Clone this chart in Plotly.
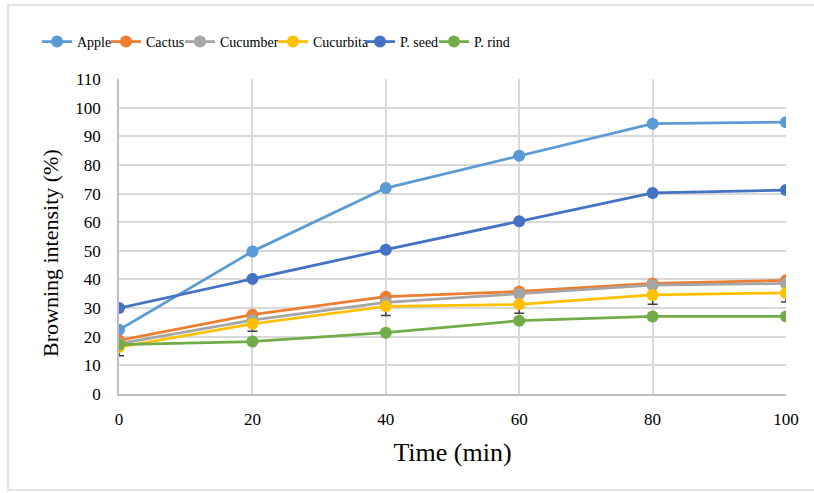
import plotly.graph_objects as go

time_min = [0, 20, 40, 60, 80, 100]
apple = [22.4, 49.8, 71.9, 83.2, 94.4, 94.9]
cactus = [18.7, 27.7, 34.0, 35.8, 38.6, 39.7]
cucumber = [17.6, 25.8, 32.0, 34.9, 38.0, 38.6]
cucurbita = [16.4, 24.5, 30.6, 31.3, 34.6, 35.3]
cucurbita_err = [3.0, 2.6, 3.2, 3.1, 3.3, 3.2]
p_seed = [30.0, 40.2, 50.4, 60.3, 70.2, 71.2]
p_rind = [17.2, 18.3, 21.4, 25.6, 27.1, 27.1]

series_names = ["Apple", "Cactus", "Cucumber", "Cucurbita", "P. seed", "P. rind"]
series_values = [apple, cactus, cucumber, cucurbita, p_seed, p_rind]
colors = ["#5B9BD5", "#ED7D31", "#A5A5A5", "#FFC000", "#4472C4", "#70AD47"]

y_ticks = list(range(0, 111, 10))
x_ticks = [0, 20, 40, 60, 80, 100]

FONT = "Liberation Serif, Times New Roman, serif"

W, H = 814, 493
L, R, T, B = 119, 28, 79, 99
pw, ph = W - L - R, H - T - B


def px(xp):
    return (xp - L) / pw


def py(yp):
    return (H - B - yp) / ph


# pixel x where each legend entry (one legend per series) begins
legend_left_px = [37, 106, 180, 273, 360, 434]
legend_ids = ["legend", "legend2", "legend3", "legend4", "legend5", "legend6"]

fig = go.Figure()
for name, vals, col, lid in zip(series_names, series_values, colors, legend_ids):
    kw = {}
    if name == "Cucurbita":
        kw["error_y"] = dict(type="data", symmetric=False,
                             array=[0] * len(cucurbita_err),
                             arrayminus=cucurbita_err,
                             color="#404040", thickness=1.5, width=5)
    fig.add_trace(go.Scatter(
        x=time_min, y=vals, name=name, mode="lines+markers",
        line=dict(color=col, width=2.75),
        marker=dict(color=col, size=12),
        legend=lid,
        **kw))

fig.add_shape(type="rect", xref="paper", yref="paper",
              x0=px(8), x1=px(840), y0=py(490), y1=py(5),
              line=dict(color="#D9D9D9", width=1.5), fillcolor="rgba(0,0,0,0)",
              layer="below")

legend_layout = {}
for lid, lx in zip(legend_ids, legend_left_px):
    legend_layout[lid] = dict(orientation="h", x=px(lx), xanchor="left",
                              y=py(42), yanchor="middle",
                              font=dict(family=FONT, size=14, color="#000000"),
                              itemwidth=30, bgcolor="rgba(0,0,0,0)")

fig.update_layout(
    width=W, height=H,
    margin=dict(l=L, r=R, t=T, b=B, pad=0),
    paper_bgcolor="white", plot_bgcolor="white",
    font=dict(family=FONT, color="#000000", size=17),
    showlegend=True,
    xaxis=dict(range=[0, 100], tickvals=x_ticks, ticktext=[str(v) for v in x_ticks],
               showgrid=True, gridcolor="#D9D9D9", gridwidth=1.5,
               showline=True, linecolor="#BFBFBF", linewidth=1.5,
               zeroline=False, ticks="", ticklabelstandoff=9,
               tickfont=dict(family=FONT, size=17, color="#000000"),
               title=dict(text="Time (min)", font=dict(family=FONT, size=26), standoff=15)),
    yaxis=dict(range=[0, 110], tickvals=y_ticks, ticktext=[str(v) for v in y_ticks],
               showgrid=True, gridcolor="#D9D9D9", gridwidth=1.5,
               showline=True, linecolor="#BFBFBF", linewidth=1.5,
               zeroline=False, ticks="", ticklabelstandoff=13,
               tickfont=dict(family=FONT, size=17, color="#000000")),
    annotations=[dict(text="Browning intensity (%)", textangle=-90,
                      xref="paper", yref="paper", x=px(50), y=py(253),
                      xanchor="center", yanchor="middle", showarrow=False,
                      font=dict(family=FONT, size=22, color="#000000"))],
    **legend_layout,
)

fig.write_html("out.html")
